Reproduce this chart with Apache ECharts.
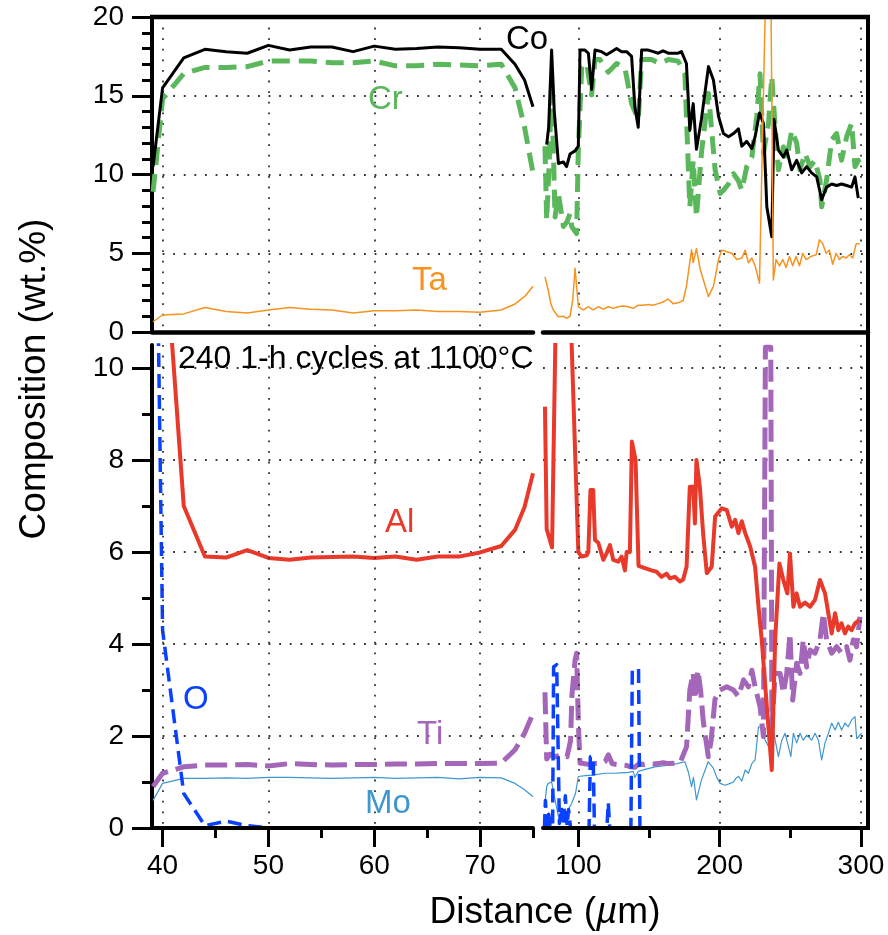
<!DOCTYPE html>
<html><head><meta charset="utf-8">
<script src="https://cdn.jsdelivr.net/npm/echarts@6/dist/echarts.min.js"></script>
<style>html,body{margin:0;padding:0;background:#fff}#c{width:888px;height:935px}</style>
</head><body><div id="c"></div>
<script>
// ---------- DATA ----------
// left (near-surface) segment, shared distances (µm)
const leftX  = [39.1, 40, 42, 44, 46, 48, 50, 52, 54, 56, 58, 60, 62, 64, 66, 68, 70, 72, 73.3, 74.2, 75];
const coLeft = [10.5, 15.5, 17.4, 17.95, 17.8, 17.7, 18.2, 17.9, 18.1, 18.1, 17.8, 18.15, 17.95, 18.0, 18.1, 18.05, 17.95, 17.95, 17.0, 16.0, 14.3];
const crLeft = [8.9, 14.8, 16.4, 16.8, 16.8, 16.85, 17.2, 17.2, 17.2, 17.1, 17.1, 17.2, 16.9, 16.9, 17.0, 16.95, 16.9, 17.0, 15.5, 13.0, 10.1];
const taLeft = [0.65, 1.08, 1.15, 1.55, 1.3, 1.2, 1.4, 1.55, 1.45, 1.4, 1.2, 1.35, 1.35, 1.4, 1.3, 1.3, 1.25, 1.4, 1.78, 2.24, 2.9];
const alLeft = [16.0, 13.4, 7.0, 5.9, 5.88, 6.04, 5.87, 5.83, 5.88, 5.89, 5.9, 5.87, 5.9, 5.83, 5.9, 5.9, 5.99, 6.13, 6.48, 6.98, 7.71];
const tiLeft = [0.9, 1.19, 1.33, 1.37, 1.37, 1.38, 1.35, 1.4, 1.38, 1.37, 1.38, 1.38, 1.39, 1.39, 1.4, 1.4, 1.4, 1.41, 1.70, 2.06, 2.49];
const moLeft = [0.6, 0.97, 1.08, 1.08, 1.09, 1.08, 1.1, 1.1, 1.09, 1.08, 1.09, 1.1, 1.08, 1.09, 1.1, 1.07, 1.1, 1.09, 0.97, 0.83, 0.68];
const oLeft  = [[39.1, 19], [40, 4.3], [42, 0.75], [44, 0.05], [46, 0.15], [48, 0.05], [50, 0]];

// right (deeper) segment, [distance µm, wt.%]
const coRight = [[77.6,11.9],[79,13],[81.1,17.9],[83,14],[85.9,10.7],[89.4,10.8],[91.7,10.5],[94.1,11.3],[97.7,11.5],[100,11.8],[101.2,17.9],[104.7,17.9],[107.1,17.7],[109.4,15.4],[111.8,17.9],[116.5,17.8],[120,17.6],[123.5,17.8],[127.1,18.0],[130.6,17.8],[134.2,17.8],[137.7,17.5],[140,14.3],[142.4,13.0],[144.8,17.9],[149.5,17.9],[153,17.8],[156.5,17.7],[160,17.85],[163.6,17.7],[167.1,17.7],[170.6,17.7],[173,17.8],[176.5,17.05],[178.9,12.8],[181.3,14.5],[183.6,11.6],[187.1,13.5],[192.1,16.85],[195.6,16.0],[199.2,13.7],[202.7,12.6],[206.3,12.4],[209.8,12.6],[213.3,12.9],[215.7,11.8],[219.2,12.1],[222.8,11.65],[225.1,12.4],[228.2,13.9],[231,13.25],[233.4,7.95],[236.9,6.05],[238.5,13.5],[241.6,11.55],[245.1,11.1],[247.5,11.55],[251,10.3],[254.5,10.9],[258.1,10.1],[261.6,10.5],[265.1,10.1],[268.7,9.85],[272.2,8.4],[275.7,9.2],[279.3,9.4],[282.8,9.3],[286.3,9.4],[289.9,9.3],[293.4,9.2],[295.8,9.85],[298.1,8.5]];
const crRight = [[76.4,11.8],[77.6,7.1],[79.5,11],[81.1,16.0],[83.5,7.3],[85.9,8.8],[89.4,6.7],[92,7.0],[94.1,7.5],[95.3,6.7],[98.8,6.25],[100,11.55],[102.4,16.85],[105.9,17.05],[109.4,15.05],[111.8,17.3],[115.3,17.3],[121.2,16.5],[127.1,17.05],[133,16.75],[137.7,14.5],[142.4,13.5],[144.8,17.3],[151.8,17.3],[157.7,17.05],[163.6,17.3],[170.6,17.2],[175.4,16.4],[178.9,7.95],[181.3,10.9],[183.6,7.3],[187.1,11.35],[192.1,15.15],[196.8,10.3],[200.4,8.8],[202.7,9.0],[206.3,9.4],[209.8,10.05],[213.3,9.6],[215.7,9.0],[219.2,10.5],[222.8,11.1],[226.3,13.7],[228.6,16.4],[231,11.35],[234.6,13.25],[236.9,16.2],[239.3,13.0],[241.6,10.3],[245.1,11.75],[247.5,11.0],[251,12.8],[254.5,12.0],[256.9,10.3],[260.4,11.35],[264,10.5],[267.5,10.9],[271,9.65],[272.2,7.95],[275.7,9.65],[279.3,12.2],[282.8,12.6],[286.3,10.9],[289.9,12.4],[293.4,13.25],[295.8,10.5],[298.1,10.9],[300.5,10.4]];
const taRight = [[76.4,3.5],[78.7,2.65],[80.5,1.8],[82.3,1.4],[85.9,0.97],[89.4,1.0],[91.7,0.87],[94.1,1.0],[96,2.0],[97.7,4.05],[100,1.6],[103.5,1.4],[107.1,1.6],[110.6,1.4],[114.1,1.6],[117.7,1.45],[121.2,1.6],[124.7,1.5],[128.3,1.6],[131.8,1.65],[135.3,1.6],[138.9,1.5],[142.4,1.7],[145.9,1.7],[149.5,1.75],[153,1.7],[156.5,1.8],[160,1.9],[163.6,2.1],[167.1,1.8],[170.6,1.85],[174.2,2.0],[176.5,2.9],[180.1,5.2],[181.3,4.4],[183.6,5.3],[186.2,4.0],[188.5,3.3],[192.1,2.25],[195.6,2.9],[199.2,4.6],[201.5,5.2],[205.1,5.1],[208.6,5.0],[212.1,4.6],[215.7,4.7],[218.1,5.2],[220.4,4.4],[222.8,4.7],[225.1,4.2],[228.2,3.1],[235.2,33],[238,3.3],[239.9,4.6],[242.3,4.2],[244.7,4.6],[247,4.1],[249.4,4.8],[251.7,4.2],[254.1,4.8],[256.5,4.2],[258.8,5.0],[261.2,4.6],[264.7,4.8],[268.3,4.9],[270.6,5.85],[273,5.6],[275.3,5.0],[277.7,5.2],[280,4.3],[282.4,5.0],[284.8,4.6],[287.1,4.8],[289.5,4.7],[291.8,4.9],[294.2,4.7],[296.6,5.6],[298.9,5.6]];
const alRight = [[76.4,9.16],[77.6,6.5],[79.5,6.3],[81.4,6.1],[85,13],[93,12.7],[100,6.0],[102.3,5.9],[105.9,5.93],[107.1,6.0],[108.6,7.35],[110.5,7.35],[111.8,6.26],[114.1,6.2],[117.7,5.83],[120,5.97],[122.4,6.15],[124.7,5.83],[128.3,5.79],[130.6,5.9],[133,5.6],[134.2,6.0],[136.5,6.0],[137.9,8.4],[140.5,8.0],[142.6,5.7],[147.1,5.65],[151.8,5.6],[155.4,5.57],[158.9,5.46],[162.4,5.53],[164.8,5.43],[168.3,5.46],[171.9,5.36],[174.2,5.4],[176.6,5.68],[178.9,7.42],[181.3,7.42],[182.5,6.62],[183.6,8.0],[186,7.42],[188.3,6.41],[190.9,5.54],[194.4,5.68],[196.8,6.77],[201.5,6.95],[205.1,6.91],[208.6,6.55],[211,6.7],[213.3,6.41],[215.7,6.67],[218.1,6.41],[221.6,6.12],[225.1,5.68],[227.5,4.81],[229.8,4.09],[233.4,2.64],[236.9,1.26],[239.3,4.09],[242.3,5.75],[245.1,5.39],[247.9,5.1],[249.8,5.97],[252.2,4.81],[254.5,5.1],[256.9,4.81],[260.4,4.9],[264,4.81],[267.5,4.96],[271,5.39],[274.6,5.1],[276.9,4.67],[279.3,4.23],[281.7,4.67],[284,4.3],[286.3,4.45],[288.7,4.23],[291,4.38],[293.4,4.3],[295.8,4.45],[298.8,4.52]];
const tiRight = [[76.4,2.95],[77.6,1.5],[80,1.6],[84,1.55],[88,1.6],[92,1.55],[94.5,1.9],[95.5,2.9],[97.7,3.65],[98.8,3.8],[100,2.3],[101.2,1.41],[104,1.4],[108,1.38],[112,1.4],[116,1.4],[119,1.45],[121.2,1.59],[124,1.4],[127,1.38],[130.6,1.37],[134,1.36],[137,1.33],[140,1.32],[143,1.4],[146,1.38],[149.5,1.4],[153,1.39],[156,1.4],[160,1.42],[164,1.4],[168,1.41],[172,1.42],[176.6,1.77],[178.9,3.0],[181.3,3.37],[182.5,2.8],[184.7,3.43],[186.5,3.0],[188.5,2.3],[192,1.55],[194,1.9],[196.7,2.8],[200.2,3.0],[205.1,3.07],[209.8,3.0],[213.3,2.86],[216.9,3.22],[220.4,3.07],[222.8,3.43],[225.1,3.07],[228.6,2.64],[231,1.99],[232.4,10.45],[236.2,10.45],[237,2.2],[239.3,3.36],[242.8,3.36],[245.1,2.93],[247.5,3.36],[249.8,4.23],[251.7,2.78],[254.5,3.58],[256.9,3.36],[259.2,4.09],[261.6,3.5],[264,3.87],[267.5,3.8],[271,4.09],[273.4,4.67],[275.7,4.09],[279.3,3.8],[282.8,3.94],[286.3,3.8],[289.9,3.94],[292.2,3.65],[294.6,4.09],[296.9,3.94],[299.3,4.59]];
const moRight = [[76.4,0.54],[77.6,0.9],[78.7,0.97],[81.1,1.0],[83,0.7],[85.9,0.25],[88,0.35],[90.6,0.3],[93,0.4],[95.3,0.54],[98,0.75],[100,1.12],[105,1.14],[110,1.15],[118.8,1.19],[125,1.19],[130,1.2],[135.3,1.21],[138.9,1.23],[140,1.1],[142.4,1.23],[148,1.28],[154.2,1.33],[160,1.35],[166,1.38],[170,1.4],[175.4,1.44],[178,1.2],[180.1,0.9],[181.5,1.1],[183.6,0.61],[187.1,1.04],[191.9,1.44],[195.6,1.3],[198,1.1],[200.4,0.97],[203.9,0.93],[207.5,0.97],[209.8,1.0],[211.5,1.08],[213.3,1.12],[215.7,1.02],[218.1,1.26],[220.4,1.19],[222.8,1.4],[225.1,1.48],[227.5,2.2],[229.8,2.2],[232.2,1.91],[234.6,1.77],[236.9,2.35],[239.3,1.91],[241.6,1.55],[244,1.91],[246.3,2.06],[248.7,1.77],[250.4,1.55],[252.2,2.06],[254.5,1.85],[256.9,2.06],[259.2,1.91],[261.6,2.02],[265.1,1.91],[267.5,2.06],[269.9,1.91],[272.2,1.48],[274.6,1.85],[277,2.06],[279.3,2.28],[281.7,2.13],[284,2.3],[286.3,2.13],[288.7,2.28],[291,2.2],[293.4,2.35],[295.8,2.42],[297,1.94],[300.5,2.06]];
const oRight = [[76,0],[76.7,0.6],[77.8,0.05],[79,0.3],[80,0.05],[81.8,0],[82.5,3.5],[84.7,3.55],[86.6,0.1],[88,0.45],[89.2,0.05],[90.8,0.7],[92,0.05],[93.1,0.4],[94.5,0],[107.6,0],[108.5,1.55],[110.5,1.55],[111.4,0],[120.2,0],[121.2,0.55],[122.2,0],[137.2,0],[138.2,3.43],[142.6,3.46],[143.6,0]];

// ticks
const leftMajor = [40, 50, 60, 70];
const leftMinor = [45, 55, 65, 75];
const rightMajor = [100, 200, 300];
const rightMinor = [150, 250];
const topMajor = [0, 5, 10, 15, 20];
const topMinor = [1,2,3,4,6,7,8,9,11,12,13,14,16,17,18,19];
const topGridY = [5, 10, 15];
const botMajor = [0, 2, 4, 6, 8, 10];
const botMinor = [1, 3, 5, 7, 9];
const botGridY = [2, 4, 6, 8, 10];

// ---------- CHART ----------
const FONT = 'Liberation Sans, Arial, Helvetica, sans-serif';
const zipL = arr => leftX.map((x, i) => [x, arr[i]]);
const dot = {color: '#333', width: 1.8, type: [1.8, 8.8]};
const tickStyle = {color: '#000', width: 3};
const lbl = {fontSize: 28, color: '#000', fontFamily: FONT};

const chart = echarts.init(document.getElementById('c'), null, {renderer: 'canvas'});

const grids = [
  {left: 152, top: 17, width: 381, height: 315},
  {left: 543, top: 17, width: 325, height: 315},
  {left: 152, top: 345, width: 381, height: 483},
  {left: 543, top: 345, width: 325, height: 483}
].map(g => Object.assign({containLabel: false, outerBoundsMode: 'none'}, g));

const xAxis = [
  {gridIndex: 0, type: 'value', min: 39, max: 75, position: 'bottom',
   axisLine: {show: true, onZero: false, lineStyle: {color: '#000', width: 4.5}},
   axisTick: {show: false, customValues: leftMajor}, axisLabel: {show: false},
   splitLine: {show: true, lineStyle: dot}},
  {gridIndex: 1, type: 'value', min: 75, max: 305, position: 'bottom',
   axisLine: {show: true, onZero: false, lineStyle: {color: '#000', width: 4.5}},
   axisTick: {show: false, customValues: rightMajor}, axisLabel: {show: false},
   splitLine: {show: true, lineStyle: dot}},
  {gridIndex: 2, type: 'value', min: 39, max: 75, position: 'bottom', z: 10,
   axisLine: {show: true, onZero: false, lineStyle: {color: '#000', width: 4}},
   axisTick: {show: true, length: 19, customValues: leftMajor, lineStyle: tickStyle},
   axisLabel: Object.assign({show: true, margin: 24, customValues: leftMajor}, lbl),
   splitLine: {show: true, lineStyle: dot}},
  {gridIndex: 2, type: 'value', min: 39, max: 75, position: 'bottom', z: 10,
   axisLine: {show: false}, axisLabel: {show: false}, splitLine: {show: false},
   axisTick: {show: true, length: 10, customValues: leftMinor, lineStyle: tickStyle}},
  {gridIndex: 3, type: 'value', min: 75, max: 305, position: 'bottom', z: 10,
   axisLine: {show: true, onZero: false, lineStyle: {color: '#000', width: 4}},
   axisTick: {show: true, length: 19, customValues: rightMajor, lineStyle: tickStyle},
   axisLabel: Object.assign({show: true, margin: 24, customValues: rightMajor}, lbl),
   splitLine: {show: true, lineStyle: dot}},
  {gridIndex: 3, type: 'value', min: 75, max: 305, position: 'bottom', z: 10,
   axisLine: {show: false}, axisLabel: {show: false}, splitLine: {show: false},
   axisTick: {show: true, length: 10, customValues: rightMinor, lineStyle: tickStyle}}
];

const yAxis = [
  {gridIndex: 0, type: 'value', min: 0, max: 20, position: 'left',
   axisLine: {show: true, onZero: false, lineStyle: {color: '#000', width: 4}},
   axisTick: {show: true, length: 20, customValues: topMajor, lineStyle: tickStyle},
   axisLabel: Object.assign({show: true, margin: 28, customValues: topMajor}, lbl),
   splitLine: {show: true, lineStyle: dot}},
  {gridIndex: 0, type: 'value', min: 0, max: 20, position: 'left',
   axisLine: {show: false}, axisLabel: {show: false}, splitLine: {show: false},
   axisTick: {show: true, length: 10, customValues: topMinor, lineStyle: tickStyle}},
  {gridIndex: 1, type: 'value', min: 0, max: 20, position: 'left',
   axisLine: {show: false}, axisLabel: {show: false},
   axisTick: {show: false, customValues: topGridY},
   splitLine: {show: true, lineStyle: dot}},
  {gridIndex: 2, type: 'value', min: 0, max: 10.5, position: 'left',
   axisLine: {show: true, onZero: false, lineStyle: {color: '#000', width: 4}},
   axisTick: {show: true, length: 20, customValues: botMajor, lineStyle: tickStyle},
   axisLabel: Object.assign({show: true, margin: 28, customValues: botMajor}, lbl),
   splitLine: {show: true, lineStyle: dot}},
  {gridIndex: 2, type: 'value', min: 0, max: 10.5, position: 'left',
   axisLine: {show: false}, axisLabel: {show: false}, splitLine: {show: false},
   axisTick: {show: true, length: 10, customValues: botMinor, lineStyle: tickStyle}},
  {gridIndex: 3, type: 'value', min: 0, max: 10.5, position: 'left',
   axisLine: {show: false}, axisLabel: {show: false},
   axisTick: {show: false, customValues: botGridY},
   splitLine: {show: true, lineStyle: dot}}
];

const C = {co: '#000000', cr: '#5bb75b', ta: '#f7931e', al: '#e8392a', ti: '#a466b8', o: '#0a40ff', mo: '#3f97cf'};
function line(name, data, xi, yi, color, width, dash, z) {
  return {type: 'line', name, data, xAxisIndex: xi, yAxisIndex: yi, showSymbol: false, symbol: 'none',
    z, clip: true, silent: true, animation: false,
    lineStyle: {color, width, type: dash || 'solid', join: 'round', cap: 'butt'}};
}
const crDash = [18, 9], tiDash = [22, 8], oDash = [14, 7];

const series = [
  // top panel
  line('Cr', zipL(crLeft), 0, 0, C.cr, 5, crDash, 2),
  line('Co', zipL(coLeft), 0, 0, C.co, 3, null, 3),
  line('Ta', zipL(taLeft), 0, 0, C.ta, 1.5, null, 4),
  line('Cr', crRight, 1, 2, C.cr, 5, crDash, 2),
  line('Co', coRight, 1, 2, C.co, 3, null, 3),
  line('Ta', taRight, 1, 2, C.ta, 1.5, null, 4),
  // bottom panel
  line('Mo', zipL(moLeft), 2, 3, C.mo, 1.2, null, 2),
  line('Ti', zipL(tiLeft), 2, 3, C.ti, 5, tiDash, 3),
  line('Al', zipL(alLeft), 2, 3, C.al, 4, null, 4),
  line('O', oLeft, 2, 3, C.o, 3.5, oDash, 5),
  line('Mo', moRight, 4, 5, C.mo, 1.2, null, 2),
  line('Ti', tiRight, 4, 5, C.ti, 5, tiDash, 3),
  line('Al', alRight, 4, 5, C.al, 4, null, 4),
  line('O', oRight, 4, 5, C.o, 3.5, oDash, 5)
];

function txt(text, x, y, color, size, align) {
  return {type: 'text', x, y, z: 100, silent: true,
    style: {text, fill: color, font: size + 'px ' + FONT, align: align || 'left', verticalAlign: 'middle',
            textAlign: align || 'left', textVerticalAlign: 'middle'}};
}

const graphic = [
  {type: 'line', z: 50, silent: true, shape: {x1: 150, y1: 17, x2: 870, y2: 17}, style: {stroke: '#000', lineWidth: 4.5}},
  {type: 'line', z: 50, silent: true, shape: {x1: 868, y1: 15, x2: 868, y2: 830}, style: {stroke: '#000', lineWidth: 4}},
  txt('Co', 506, 40, C.co, 33),
  txt('Cr', 368, 100, C.cr, 33),
  txt('Ta', 412, 281, C.ta, 33),
  txt('Al', 385, 523, C.al, 33),
  txt('Ti', 417, 735, C.ti, 33),
  txt('O', 183, 700, C.o, 33),
  txt('Mo', 365, 804, C.mo, 33),
  txt('240 1-h cycles at 1100°C', 178, 359, '#000', 32),
  {type: 'text', x: 35, y: 379, rotation: Math.PI / 2, z: 100, silent: true,
   style: {text: 'Composition (wt.%)', fill: '#000', font: '37px ' + FONT, align: 'center', verticalAlign: 'middle',
           textAlign: 'center', textVerticalAlign: 'middle'}},
  {type: 'text', x: 545, y: 913, z: 100, silent: true,
   style: {text: '{n|Distance (}{i|µ}{n|m)}', fill: '#000', align: 'center', verticalAlign: 'middle',
           textAlign: 'center', textVerticalAlign: 'middle', font: '37px ' + FONT,
           rich: {n: {font: '37px ' + FONT, fill: '#000'}, i: {font: 'italic 37px ' + FONT, fill: '#000'}}}}
];

chart.setOption({
  animation: false,
  backgroundColor: '#fff',
  grid: grids,
  xAxis, yAxis, series, graphic
});
</script>
</body></html>
